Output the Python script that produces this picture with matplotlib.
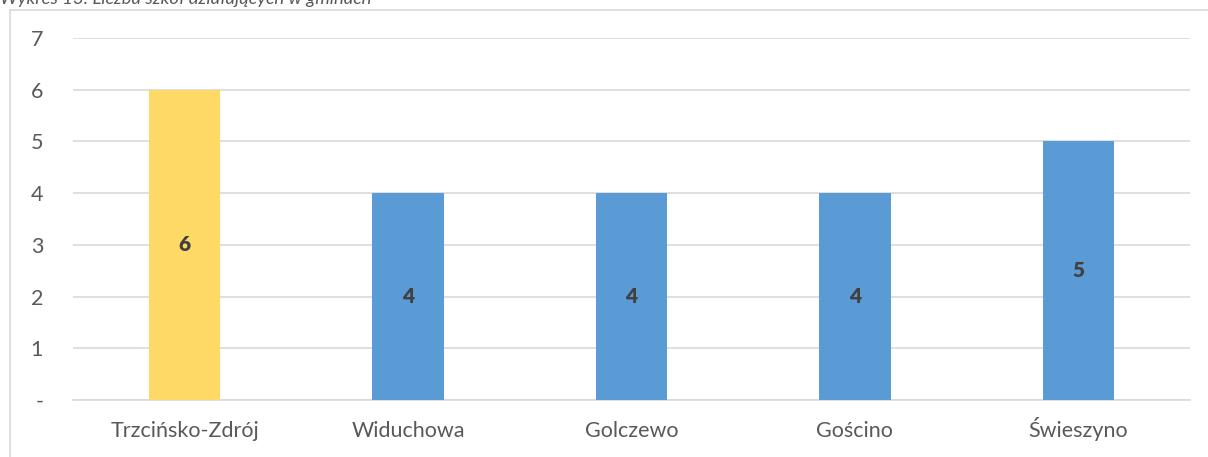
import matplotlib
matplotlib.use("Agg")
import matplotlib.pyplot as plt
from matplotlib.lines import Line2D

categories = ["Trzcińsko-Zdrój", "Widuchowa", "Golczewo", "Gościno", "Świeszyno"]
values = [6, 4, 4, 4, 5]
bar_colors = ["#FFD966", "#5B9BD5", "#5B9BD5", "#5B9BD5", "#5B9BD5"]
yticks = [0, 1, 2, 3, 4, 5, 6, 7]
ytick_labels = ["-", "1", "2", "3", "4", "5", "6", "7"]
title = "Wykres 13. Liczba szkół działających w gminach"

plt.rcParams['font.family'] = ['Lato', 'DejaVu Sans']

W, H = 1208, 457
fig = plt.figure(figsize=(W / 100, H / 100), dpi=100)
ax = fig.add_axes([73 / W, 1 - 400 / H, (1190 - 73) / W, (400 - 38) / H])

x = list(range(len(categories)))
bars = ax.bar(x, values, width=0.32, color=bar_colors, zorder=3)
for xi, v in zip(x, values):
    ax.text(xi, v / 2, str(v), ha="center", va="center", fontsize=15,
            fontweight="heavy", color="#404040", zorder=4)

ax.set_xlim(-0.5, len(categories) - 0.5)
ax.set_ylim(0, 7)
ax.set_yticks(yticks)
ax.set_yticklabels(ytick_labels)
ax.set_xticks(x)
ax.set_xticklabels(categories)
ax.tick_params(axis="both", length=0, labelsize=15.5, colors="#595959")
ax.tick_params(axis="y", pad=21.5)
ax.tick_params(axis="x", pad=26.5)
for lbl in ax.get_xticklabels():
    lbl.set_verticalalignment("baseline")
ax.grid(axis="y", color="#D9D9D9", linewidth=1.2, zorder=0)
for s in ["top", "right", "left"]:
    ax.spines[s].set_visible(False)
ax.spines["bottom"].set_color("#D9D9D9")
ax.spines["bottom"].set_linewidth(1.2)

# chart frame (top and left edges visible)
fig.add_artist(Line2D([10 / W, 1], [1 - 10 / H, 1 - 10 / H], color="#D9D9D9", linewidth=1.2, transform=fig.transFigure))
fig.add_artist(Line2D([10 / W, 10 / W], [0, 1 - 10 / H], color="#D9D9D9", linewidth=1.2, transform=fig.transFigure))

# title at top (cut by the page edge in the source)
fig.text(0 / W, 1 - 4 / H, title, ha="left", va="baseline", fontsize=13.3,
         style="italic", color="#595959")

fig.savefig("out.png", dpi=100)
